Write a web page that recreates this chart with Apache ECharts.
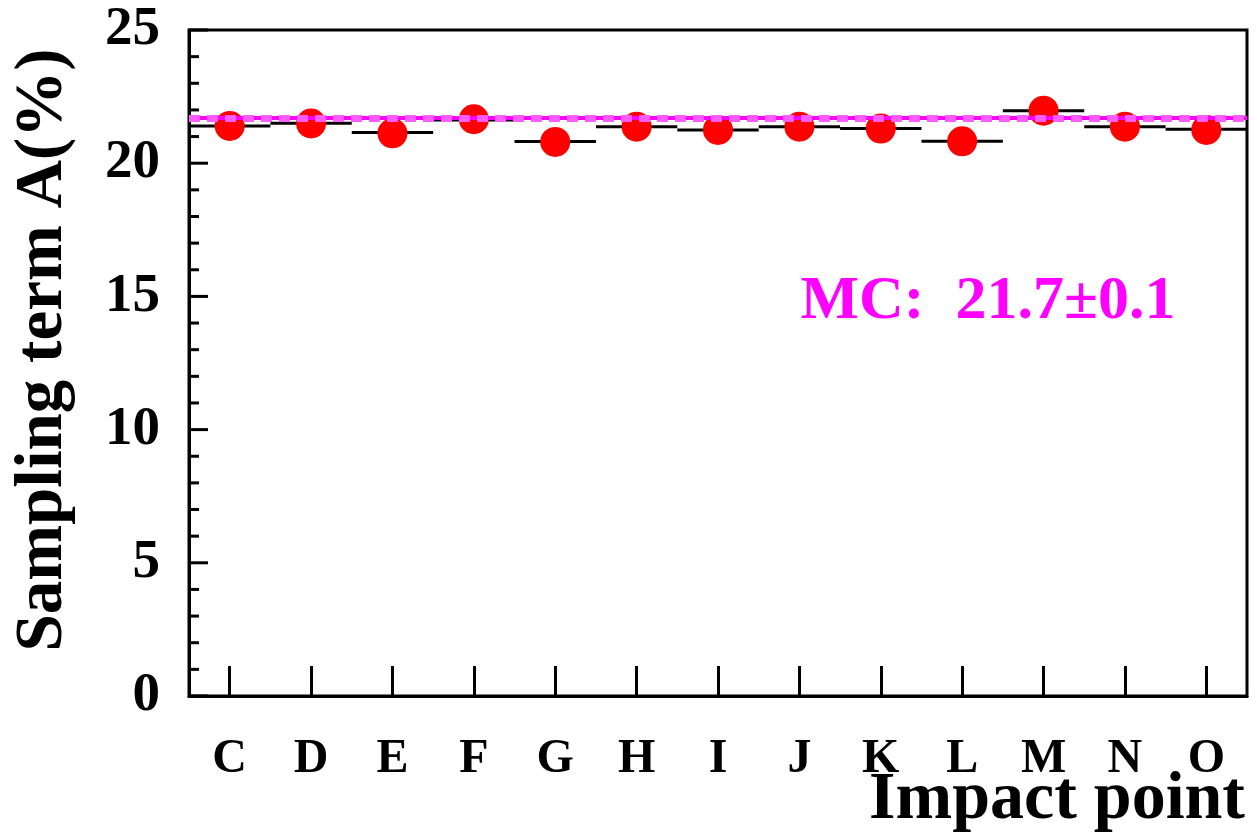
<!DOCTYPE html>
<html>
<head>
<meta charset="utf-8">
<script src="https://cdn.jsdelivr.net/npm/echarts@6/dist/echarts.min.js"></script>
<style>
  html, body { margin: 0; padding: 0; background: #fff; }
  #chart { width: 1257px; height: 836px; }
</style>
</head>
<body>
<div id="chart"></div>
<script>
// impact points and fitted sampling term (%)
const points = ['C', 'D', 'E', 'F', 'G', 'H', 'I', 'J', 'K', 'L', 'M', 'N', 'O'];
const histValues = [21.4, 21.5, 21.15, 21.62, 20.81, 21.37, 21.25, 21.37, 21.3, 20.82, 21.97, 21.37, 21.27];
const dotValues = [21.4, 21.49, 21.12, 21.65, 20.8, 21.37, 21.25, 21.37, 21.3, 20.82, 21.97, 21.37, 21.25];
const mcValue = 21.7;
const mcError = 0.1;
const yTicks = [0, 5, 10, 15, 20, 25];
const yMinorTicks = [1, 2, 3, 4, 6, 7, 8, 9, 11, 12, 13, 14, 16, 17, 18, 19, 21, 22, 23, 24];

const serif = 'Liberation Serif';
const gridBox = { left: 189, right: 10, top: 30, bottom: 140 };
const plotH = 836 - gridBox.top - gridBox.bottom;

const chart = echarts.init(document.getElementById('chart'));

const tickLine = { color: '#000', width: 3 };

// y ticks drawn inward from the left frame edge (first bin's left edge)
function yTickItem(len) {
  return (params, api) => {
    const p = api.coord([0, api.value(1)]);
    const x0 = p[0] - api.size([1, 0])[0] / 2;
    return {
      type: 'line',
      shape: { x1: x0, y1: p[1], x2: x0 + len, y2: p[1] },
      style: { stroke: '#000', lineWidth: 3 }
    };
  };
}

chart.setOption({
  backgroundColor: '#fff',
  animation: false,
  grid: Object.assign({ show: true, borderColor: '#000', borderWidth: 3 }, gridBox),
  xAxis: [
    {
      type: 'category',
      data: points,
      boundaryGap: true,
      axisLine: { lineStyle: { color: '#000', width: 3 } },
      axisTick: { show: false },
      axisLabel: { margin: 40, color: '#000', fontFamily: serif, fontWeight: 'bold', fontSize: 48 },
      splitLine: { show: false }
    },
    {
      // tick marks only: top axis moved down onto the bottom edge so ticks point up
      type: 'category',
      data: points,
      position: 'top',
      offset: -plotH,
      boundaryGap: true,
      axisLine: { show: false },
      axisTick: { show: true, length: 30, alignWithLabel: true, lineStyle: tickLine },
      axisLabel: { show: false },
      splitLine: { show: false }
    }
  ],
  yAxis: {
    type: 'value',
    min: yTicks[0],
    max: yTicks[yTicks.length - 1],
    interval: 5,
    axisLine: { show: true, lineStyle: { color: '#000', width: 3 } },
    axisTick: { show: false },
    minorTick: { show: false },
    axisLabel: { margin: 29, color: '#000', fontFamily: serif, fontWeight: 'bold', fontSize: 55 },
    splitLine: { show: false }
  },
  series: [
    {
      type: 'custom',
      z: 4,
      silent: true,
      clip: false,
      data: yTicks.map(v => [0, v]),
      renderItem: yTickItem(19)
    },
    {
      type: 'custom',
      z: 4,
      silent: true,
      clip: false,
      data: yMinorTicks.map(v => [0, v]),
      renderItem: yTickItem(10)
    },
    {
      // histogram style horizontal bins
      type: 'custom',
      z: 2,
      data: histValues.map((v, i) => [i, v]),
      renderItem: (params, api) => {
        const p = api.coord([api.value(0), api.value(1)]);
        const w = api.size([1, 0])[0];
        return {
          type: 'line',
          shape: { x1: p[0] - w / 2, y1: p[1], x2: p[0] + w / 2, y2: p[1] },
          style: { stroke: '#000', lineWidth: 3 }
        };
      }
    },
    {
      type: 'scatter',
      z: 3,
      symbol: 'circle',
      symbolSize: 30,
      itemStyle: { color: '#ff0000', opacity: 1 },
      data: dotValues
    },
    {
      // MC reference: solid line
      type: 'line',
      z: 5,
      data: [],
      markLine: {
        silent: true,
        symbol: 'none',
        label: { show: false },
        lineStyle: { color: '#ff00ff', width: 4, type: 'solid', opacity: 1 },
        data: [{ yAxis: mcValue }]
      }
    },
    {
      // MC reference: lighter dashed band
      type: 'line',
      z: 6,
      data: [],
      markLine: {
        silent: true,
        symbol: 'none',
        label: { show: false },
        lineStyle: { color: '#ff5cff', width: 7, type: [11, 7], opacity: 1 },
        data: [{ yAxis: mcValue }]
      }
    }
  ],
  graphic: [
    {
      type: 'text',
      x: 44, y: 350,
      rotation: Math.PI / 2,
      style: {
        text: 'Sampling term A(%)',
        font: 'bold 67px "Liberation Serif"',
        fill: '#000',
        align: 'center',
        verticalAlign: 'middle'
      }
    },
    {
      type: 'text',
      x: 1245, y: 800,
      style: {
        text: 'Impact point',
        font: 'bold 68px "Liberation Serif"',
        fill: '#000',
        align: 'right',
        verticalAlign: 'middle'
      }
    },
    {
      type: 'text',
      x: 988, y: 302,
      style: {
        text: 'MC:  ' + mcValue.toFixed(1) + '\u00b1' + mcError.toFixed(1),
        font: 'bold 62px "Liberation Serif"',
        fill: '#ff00ff',
        align: 'center',
        verticalAlign: 'middle'
      }
    }
  ]
});
</script>
</body>
</html>
